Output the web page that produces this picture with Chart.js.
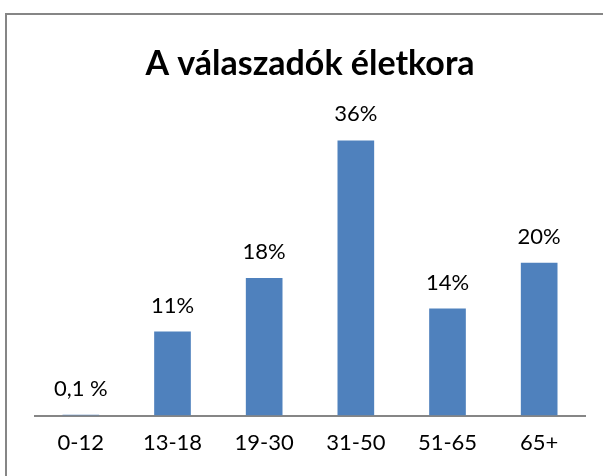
<!DOCTYPE html>
<html>
<head>
<meta charset="utf-8">
<script src="https://cdn.jsdelivr.net/npm/chart.js@4"></script>
<style>
  html, body { margin: 0; padding: 0; background: #fff; }
  #wrap { width: 603px; height: 476px; position: relative; }
</style>
</head>
<body>
<div id="wrap"><canvas id="myChart" width="603" height="476"></canvas></div>
<script>
// age groups and share of respondents (%)
const categories = ['0-12', '13-18', '19-30', '31-50', '51-65', '65+'];
const shares = [0.1, 11, 18, 36, 14, 20];
const shareLabels = ['0,1 %', '11%', '18%', '36%', '14%', '20%'];

const fontFamily = "Lato, 'Open Sans', sans-serif";

// gray frame round the chart (only top and left are inside the window)
const framePlugin = {
    id: 'frame',
    beforeDraw(chart) {
        const c = chart.ctx;
        c.save();
        c.strokeStyle = '#868686';
        c.lineWidth = 2;
        c.strokeRect(6, 14, 620, 500);
        c.restore();
    }
};

// value labels above the bars
const valueLabels = {
    id: 'valueLabels',
    afterDatasetsDraw(chart) {
        const c = chart.ctx;
        const meta = chart.getDatasetMeta(0);
        c.save();
        c.fillStyle = '#000';
        c.font = '22px ' + fontFamily;
        c.textAlign = 'center';
        c.textBaseline = 'middle';
        meta.data.forEach((bar, i) => {
            c.fillText(shareLabels[i], bar.x, bar.y - 26);
        });
        c.restore();
    }
};

const ctx = document.getElementById('myChart').getContext('2d');

const myChart = new Chart(ctx, {
    type: 'bar',
    data: {
        labels: categories,
        datasets: [{
            data: shares,
            backgroundColor: '#4F81BD',
            borderWidth: 0,
            barPercentage: 0.4,
            categoryPercentage: 1
        }]
    },
    options: {
        responsive: false,
        animation: false,
        layout: {
            padding: { left: 35, right: 18, top: 32, bottom: 14 }
        },
        scales: {
            y: {
                display: false,
                min: 0,
                max: 40
            },
            x: {
                grid: { display: false },
                border: { color: '#868686', width: 2 },
                ticks: {
                    color: '#000',
                    padding: 6,
                    font: { family: fontFamily, size: 22 }
                }
            }
        },
        plugins: {
            legend: { display: false },
            tooltip: { enabled: false },
            title: {
                display: true,
                text: 'A válaszadók életkora',
                color: '#000',
                font: { family: fontFamily, size: 34, weight: 'bold' },
                padding: { top: 12, bottom: 25 }
            }
        }
    },
    plugins: [framePlugin, valueLabels]
});
</script>
</body>
</html>
